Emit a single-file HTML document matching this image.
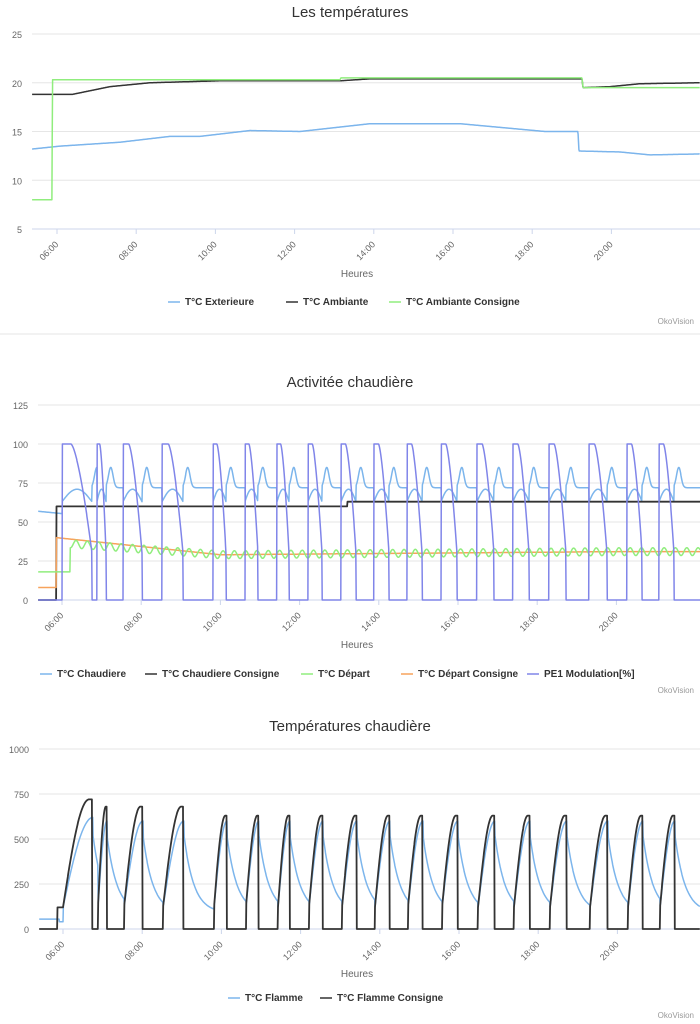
<!DOCTYPE html>
<html><head><meta charset="utf-8"><style>
body{margin:0;background:#fff;width:700px;height:1024px;overflow:hidden;font-family:"Liberation Sans",sans-serif}
svg{position:absolute;left:0;top:0}
</style></head><body>
<svg id="s" width="700" height="1024" xmlns="http://www.w3.org/2000/svg" font-family="Liberation Sans, sans-serif"></svg>
<script>
var S=document.getElementById('s'),h='';
function line(x1,y1,x2,y2,c,w){h+='<line x1="'+x1+'" y1="'+y1+'" x2="'+x2+'" y2="'+y2+'" stroke="'+c+'" stroke-width="'+(w||1)+'"/>';}
function text(x,y,t,o){h+='<text x="'+x+'" y="'+y+'" '+(o||'')+'>'+t+'</text>';}
function path(pts,c,w){var d='M'+pts.map(function(p){return p[0].toFixed(1)+' '+p[1].toFixed(1)}).join('L');h+='<path d="'+d+'" fill="none" stroke="'+c+'" stroke-width="'+(w||1.5)+'" stroke-linejoin="round"/>';}
function chart(o){
 text(350,o.ty,o.title,'text-anchor="middle" style="font-size:15px;fill:#333"');
 o.yt.forEach(function(v,i){var y=o.y0-(v-o.yt[0])*o.sc;line(o.left,y,700,y,'#e6e6e6');text(o.left-10,y+4,v,'text-anchor="end" style="font-size:9px;fill:#666"');});
 for(var k=0;k<8;k++){var t=6+2*k,x=o.x06+(t-6)*39.6;line(x,o.y0,x,o.y0+5,'#ccd6eb');var l=(t<10?'0':'')+t+':00';text(x+2,o.y0+16,l,'text-anchor="end" transform="rotate(-45 '+(x+2)+' '+(o.y0+16)+')" style="font-size:9px;fill:#666"');}
 line(o.left,o.y0,700,o.y0,'#ccd6eb');
 text(357,o.y0+48,'Heures','text-anchor="middle" style="font-size:10px;fill:#666"');
 var lx=o.lx;o.leg.forEach(function(l){line(lx,o.ly-3,lx+12,o.ly-3,l[1],1.5);text(lx+17,o.ly,l[0],'style="font-size:10px;font-weight:bold;fill:#333"');lx+=l[2];});
 text(694,o.ok,'OkoVision','text-anchor="end" style="font-size:8px;fill:#999"');
}
function X(o,t){return o.x06+(t-6)*39.6;}
function Y(o,v){return o.y0-(v-o.yt[0])*o.sc;}
function interp(k,t){for(var i=1;i<k.length;i++)if(t<=k[i][0]){var a=k[i-1],b=k[i];return a[1]+(b[1]-a[1])*(t-a[0])/(b[0]-a[0]||1);}return k[k.length-1][1];}
function series(o,f,c,w){var p=[];for(var t=5.35;t<=22.3;t+=0.01){p.push([X(o,t),Y(o,f(t))]);}path(p.filter(function(q){return q[0]>=o.left&&q[0]<=700}),c,w);}
var c1={title:'Les températures',ty:17,yt:[5,10,15,20,25],y0:229,sc:9.75,left:32,x06:57,lx:168,ly:305,ok:324,
leg:[['T°C Exterieure','#7cb5ec',118],['T°C Ambiante','#333',103],['T°C Ambiante Consigne','#90ed7d',0]]};
chart(c1);line(0,334,700,334,'#e6e6e6');
var T=function(x){return 6+(x-57)/39.6};
var bl=[[T(32),13.2],[T(60),13.5],[T(120),13.9],[T(170),14.5],[T(200),14.5],[T(250),15.1],[T(300),15],[T(370),15.8],[T(460),15.8],[T(545),15],[T(578),15],[T(579),13],[T(620),12.9],[T(650),12.6],[T(700),12.7]];
series(c1,function(t){return interp(bl,t)},'#7cb5ec',1.5);
var bk=[[T(32),18.8],[T(72),18.8],[T(110),19.6],[T(150),20],[T(220),20.2],[T(340),20.2],[T(370),20.4],[T(582),20.4],[T(583),19.5],[T(610),19.6],[T(640),19.9],[T(700),20]];
series(c1,function(t){return interp(bk,t)},'#333',1.5);
var gr=[[T(32),8],[T(52),8],[T(52.5),20.3],[T(340),20.3],[T(341),20.5],[T(582),20.5],[T(583),19.5],[T(700),19.5]];
series(c1,function(t){return interp(gr,t)},'#90ed7d',1.5);
var cyc=[[63,93],[98,107],[124,143],[163,184],[214,227],[246,259],[278,290],[309,323],[342,357],[375,390],[408,423],[442,458],[478,495],[514,530],[550,567],[590,608],[628,643],[660,675]];
var C3=function(x){return 6+(x-63)/39.6};
cyc=cyc.map(function(c){return [C3(c[0]),C3(c[1])]});
function phase(t){var last=null;for(var i=0;i<cyc.length;i++){if(t>=cyc[i][0]&&t<=cyc[i][1])return {on:1,f:(t-cyc[i][0])/(cyc[i][1]-cyc[i][0]),i:i};if(t>cyc[i][1])last=i;}if(last===null)return {on:-1};return {on:0,dt:t-cyc[last][1],i:last};}
var c2={title:'Activitée chaudière',ty:387,yt:[0,25,50,75,100,125],y0:600,sc:1.56,left:38,x06:62,lx:40,ly:677,ok:693,
leg:[['T°C Chaudiere','#7cb5ec',105],['T°C Chaudiere Consigne','#333',156],['T°C Départ','#90ed7d',100],['T°C Départ Consigne','#f7a35c',126],['PE1 Modulation[%]','#8085e9',0]]};
chart(c2);
series(c2,function(t){var p=phase(t);if(p.on<0)return 57-(t-5.35)*2.5;if(p.on)return 63+8*Math.sin(p.f*3.14);return 72+13*Math.exp(-Math.pow((p.dt-0.12)/0.08,2))-8*Math.max(0,1-p.dt*10)*0;},'#7cb5ec',1.5);
series(c2,function(t){return t<5.85?0:(t<13.2?60:63)},'#333',1.8);
series(c2,function(t){return t<5.85?8:(t<10?40-11*(t-5.85)/4.15:29+Math.min(2,(t-10)*0.2))},'#f7a35c',1.5);
series(c2,function(t){return t<6.2?18:(t<10?36-7*(t-6.2)/3.8:29+Math.min(2,(t-10)*0.2))+2.5*Math.sin(t*22)},'#90ed7d',1.5);
series(c2,function(t){var p=phase(t);if(p.on!==1)return 0;return p.f<0.3?100:100-70*Math.pow((p.f-0.3)/0.7,1.5);},'#8085e9',1.5);
var c3={title:'Températures chaudière',ty:731,yt:[0,250,500,750,1000],y0:929,sc:0.18,left:39,x06:63,lx:228,ly:1001,ok:1018,
leg:[['T°C Flamme','#7cb5ec',92],['T°C Flamme Consigne','#333',0]]};
chart(c3);
series(c3,function(t){var p=phase(t);if(p.on<0)return t<5.9?55:40;if(p.on){var pk=p.i<1?620:600;return 120+(pk-120)*Math.sin(p.f*1.57);}return 90+(520-90)*Math.exp(-p.dt*4);},'#7cb5ec',1.5);
series(c3,function(t){var p=phase(t);if(p.on<0)return t<5.85?0:120;if(p.on){var pk=p.i==0?720:(p.i<4?680:630);if(p.f>0.97)return 0;return 120+(pk-120)*Math.sin(Math.min(1,p.f*1.15)*1.57);}return 0;},'#333',1.8);
S.innerHTML=h;
</script>
</body></html>
